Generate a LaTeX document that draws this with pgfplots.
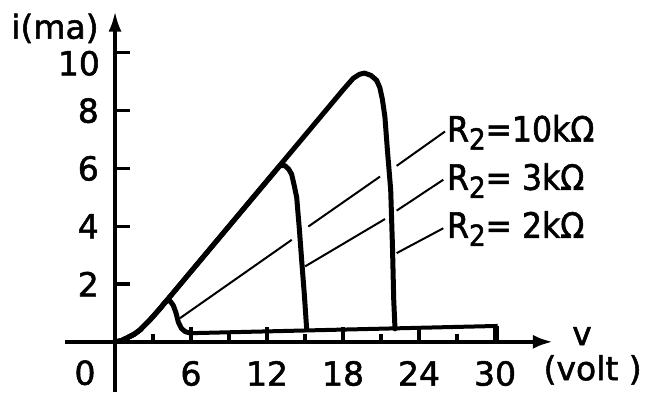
\documentclass[border=0pt]{standalone}
\usepackage{fontspec}
\setmainfont{DejaVu Sans}[FakeBold=1.6]
\newfontfamily\labf{DejaVu Sans}[FakeBold=1.6, FakeStretch=0.9]
\usepackage{pgfplots}
\pgfplotsset{compat=1.18}
\usetikzlibrary{arrows.meta}
\newcommand{\bigf}{\fontsize{33}{36}\selectfont}
\newcommand{\lab}{\labf\fontsize{35}{38}\selectfont}
\newcommand{\Rtwo}{R\raisebox{-8pt}{\fontsize{29}{30}\selectfont 2}}
\begin{document}
\begin{tikzpicture}
\begin{axis}[
  scale only axis, width=488pt, height=380pt,
  xmin=-3.95, xmax=34.57, ymin=-1.72, ymax=11.43,
  axis lines=middle,
  x axis line style={line width=4pt, -{Latex[length=20pt,width=14pt]}},
  y axis line style={line width=3.2pt, -{Latex[length=20pt,width=13pt]}},
  xtick={6,12,18,24,30}, minor xtick={3,9,15,21,27},
  ytick={2,4,6,8,10},
  yticklabels={2,4,6,8,{}},
  tick align=inside,
  major tick length=15pt, minor tick length=8pt,
  every tick/.style={black, line width=3.2pt},
  tick label style={font=\bigf, inner sep=0pt},
  /pgf/number format/assume math mode=true,
  xticklabel style={anchor=north, yshift=-19pt},
  yticklabel style={anchor=east, xshift=-16pt},
  clip=false,
]
% R2 = 2k
\addplot[line width=5pt, line join=round, line cap=round] coordinates {
(0,0) (0.5,0.04) (0.92,0.13) (1.5,0.26) (1.97,0.41) (2.76,0.76) (3.55,1.15)
(3.85,1.32) (4.1,1.43) (4.35,1.41) (4.6,1.26) (4.8,1.02) (5.0,0.68) (5.25,0.46)
(5.55,0.35) (6.0,0.30)};
\addplot[line width=4pt, line join=round] coordinates {(6.0,0.30) (30.2,0.55)};
\addplot[line width=2.5pt] coordinates {(30.2,0.55) (30.2,0)};
% R2 = 3k
\addplot[line width=5pt, line join=round, line cap=round] coordinates {
(0,0) (0.5,0.04) (0.92,0.13) (1.5,0.26) (1.97,0.41) (2.76,0.76) (3.55,1.15)
(4.08,1.43) (8,3.48) (12.6,5.88) (13.02,6.1) (13.4,6.1) (13.7,5.98) (13.94,5.8)
(14.15,5.4) (14.34,5.0) (14.55,3.9) (14.73,2.84) (14.95,1.6) (15.13,0.42)};
% R2 = 10k
\addplot[line width=5pt, line join=round, line cap=round] coordinates {
(0,0) (0.5,0.04) (0.92,0.13) (1.5,0.26) (1.97,0.41) (2.76,0.76) (3.55,1.15)
(4.08,1.43) (18.0,8.72) (18.8,9.12) (19.3,9.26) (19.7,9.3) (20.2,9.22)
(20.65,9.05) (20.9,8.8) (21.1,8.4) (21.3,7.8) (21.5,6.64) (21.76,5.26)
(21.9,3.3) (22.0,1.45) (22.1,0.45)};
% leader lines
\addplot[line width=2pt] coordinates {(5.13,0.82) (13.95,3.53)};
\addplot[line width=2pt] coordinates {(15.26,3.99) (20.92,5.72)};
\addplot[line width=2pt] coordinates {(22.23,6.09) (26.05,7.28)};
\addplot[line width=2pt] coordinates {(15.0,2.61) (21.31,4.25)};
\addplot[line width=2pt] coordinates {(22.23,4.54) (25.91,5.61)};
\addplot[line width=2pt] coordinates {(22.23,3.07) (25.91,3.93)};
% labels
\node[anchor=base west, font=\lab, inner sep=0pt] at (axis cs:26.2,6.93) {\Rtwo=10kΩ};
\node[anchor=base west, font=\lab, inner sep=0pt] at (axis cs:26.2,5.26) {\Rtwo= 3kΩ};
\node[anchor=base west, font=\lab, inner sep=0pt] at (axis cs:26.2,3.60) {\Rtwo= 2kΩ};
\node[font=\bigf, inner sep=0pt, anchor=east] at (axis cs:-1.18,9.64) {10};
\node[font=\bigf, inner sep=0pt] at (axis cs:-4.74,10.85) {i(ma)};
\node[font=\bigf, inner sep=0pt] at (axis cs:-2.37,-1.07) {0};
\node[font=\bigf, inner sep=0pt] at (axis cs:36.86,0.2) {v};
\node[font=\bigf, inner sep=0pt] at (axis cs:37.7,-0.97) {(volt )};
\coordinate (BL) at (axis cs:-9.08,-1.80);
\coordinate (TR) at (axis cs:42.15,11.83);
\end{axis}
\path (BL) rectangle (TR);
\end{tikzpicture}
\end{document}
